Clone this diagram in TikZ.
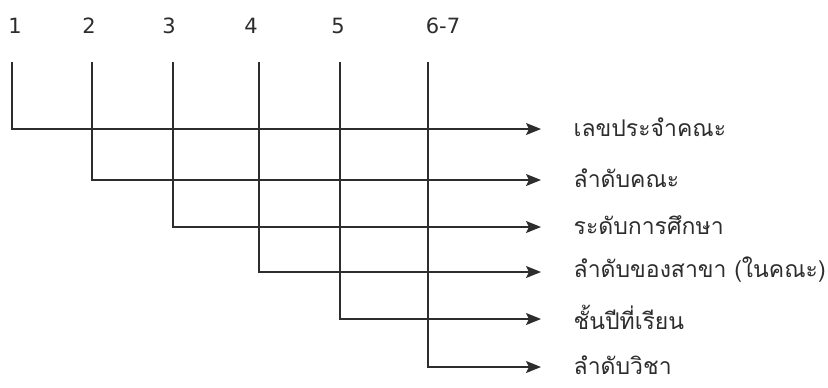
\documentclass[tikz,border=0pt]{standalone}
\usepackage{fontspec}
\setmainfont{DejaVu Sans}
\newfontfamily\thaifont[Script=Thai]{Loma}
\usetikzlibrary{arrows.meta}
\definecolor{inkgray}{RGB}{45,45,45}

\begin{document}
\begin{tikzpicture}[x=0.5pt, y=-0.5pt, >={Stealth[length=7.5pt, width=6pt, inset=1.5pt]}, line width=0.65pt,
    digit/.style={font=\fontsize{10.5}{12}\selectfont, text=inkgray, inner sep=0pt},
    thlabel/.style={anchor=west, font=\thaifont\fontsize{11.5}{13}\selectfont, text=inkgray, inner sep=0pt}]
    \useasboundingbox (0,0) rectangle (828,387);

    % ตำแหน่งหลักของรหัส
    \node[digit] (n1) at (15,26) {1};
    \node[digit] (n2) at (89,26) {2};
    \node[digit] (n3) at (169,26) {3};
    \node[digit] (n4) at (251,26) {4};
    \node[digit] (n5) at (338,26) {5};
    \node[digit] (n6) at (443,26) {6-7};

    % ปลายบนของเส้นตั้ง
    \coordinate (t1) at (12,62);
    \coordinate (t2) at (92,62);
    \coordinate (t3) at (173,62);
    \coordinate (t4) at (259,62);
    \coordinate (t5) at (340,62);
    \coordinate (t6) at (428,62);

    % ปลายลูกศร
    \coordinate (a1) at (541,129);
    \coordinate (a2) at (541,180);
    \coordinate (a3) at (541,227);
    \coordinate (a4) at (541,272);
    \coordinate (a5) at (541,319);
    \coordinate (a6) at (541,367);

    % ความหมายของแต่ละหลัก
    \node[thlabel] (l1) at (573,127) {เลขประจำคณะ};
    \node[thlabel] (l2) at (573,178) {ลำดับคณะ};
    \node[thlabel] (l3) at (573,225) {ระดับการศึกษา};
    \node[thlabel] (l4) at (573,270) {ลำดับของสาขา (ในคณะ)};
    \node[thlabel] (l5) at (573,317) {ชั้นปีที่เรียน};
    \node[thlabel] (l6) at (573,365) {ลำดับวิชา};

    % เส้นเชื่อม
    \draw[->, inkgray] (t1) |- (a1);
    \draw[->, inkgray] (t2) |- (a2);
    \draw[->, inkgray] (t3) |- (a3);
    \draw[->, inkgray] (t4) |- (a4);
    \draw[->, inkgray] (t5) |- (a5);
    \draw[->, inkgray] (t6) |- (a6);

\end{tikzpicture}
\end{document}
